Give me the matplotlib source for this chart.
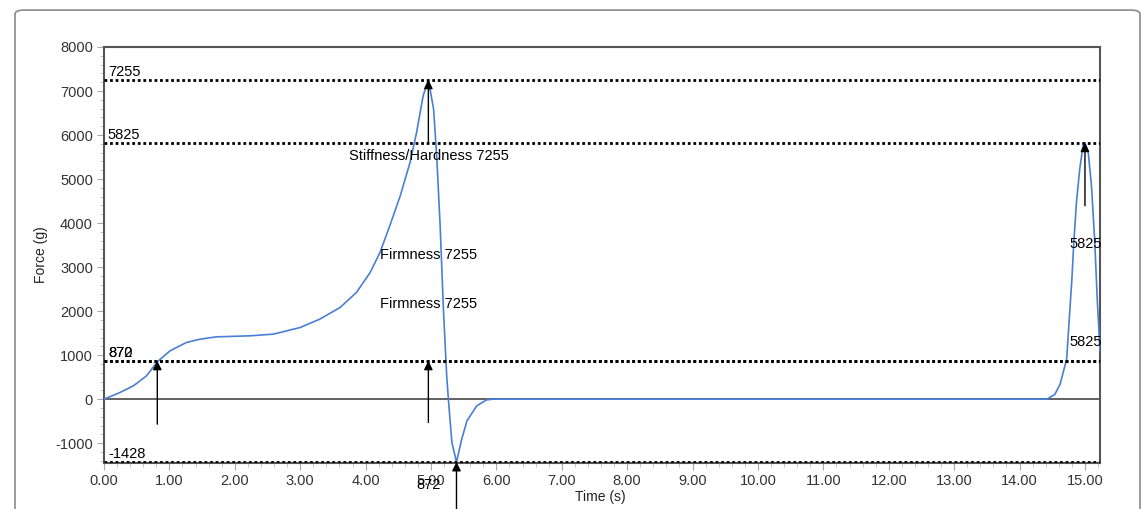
import matplotlib
matplotlib.use("Agg")
import matplotlib.pyplot as plt
from matplotlib.patches import FancyBboxPatch
from matplotlib.ticker import MultipleLocator, FormatStrFormatter

plt.rcParams['font.family'] = ['Liberation Sans', 'DejaVu Sans']
plt.rcParams['axes.unicode_minus'] = False

# force curve
time_s = [0.0, 0.245, 0.45, 0.65, 0.815, 1.01, 1.26, 1.47, 1.72, 2.23, 2.59,
          3.0, 3.30, 3.61, 3.86, 4.07, 4.22, 4.37, 4.53, 4.68, 4.78, 4.88,
          4.96, 5.04, 5.09, 5.14, 5.19, 5.24, 5.27, 5.32, 5.39, 5.47, 5.55,
          5.70, 5.85, 5.95, 14.42, 14.54, 14.62, 14.72, 14.76, 14.80, 14.83,
          14.87, 14.92, 14.97, 15.0, 15.05, 15.10, 15.15, 15.19, 15.23]
force_g = [0, 152, 303, 530, 848, 1098, 1288, 1363, 1416, 1439, 1477,
           1628, 1818, 2083, 2424, 2878, 3333, 3939, 4620, 5378, 6060, 6892,
           7255, 6590, 5453, 3939, 2045, 530, -76, -985, -1428, -909, -492,
           -151, -15, 0, 0, 110, 340, 909, 1818, 2727, 3567,
           4476, 5226, 5756, 5825, 5606, 4847, 3567, 2204, 1100]

# dotted level lines and their labels
levels = [7255, 5825, 870, 872, -1428]
level_labels = ['7255', '5825', '870', '872', '-1428']

# arrows: (time, tail force, head force)
arrows = [(0.815, -568, 870), (4.96, -530, 870), (4.96, 5825, 7255),
          (5.39, -2490, -1428), (15.0, 4394, 5825)]

# text marks: (time, force, text, ha)
notes = [(4.97, 5530, 'Stiffness/Hardness 7255', 'center'),
         (4.22, 3272, 'Firmness 7255', 'left'),
         (4.22, 2151, 'Firmness 7255', 'left'),
         (14.77, 3522, '5825', 'left'),
         (14.77, 1295, '5825', 'left'),
         (4.96, -1960, '872', 'center')]

fig = plt.figure(figsize=(11.42, 5.09), dpi=100)
frame = FancyBboxPatch((15 / 1142, -0.05), 1125 / 1142, 0.04 + 504 / 509,
                       boxstyle="round,pad=0,rounding_size=0.008",
                       transform=fig.transFigure, fill=False,
                       edgecolor='#8a8a8a', lw=1.2)
fig.patches.append(frame)

ax = fig.add_axes([104 / 1142, 1 - 463 / 509, 996 / 1142, 416 / 509])
ax.set_xlim(0, 15.23)
ax.set_ylim(-1450, 8000)

ax.plot(time_s, force_g, color='#4a7fd6', lw=1.2, zorder=3)
ax.axhline(0, color='#555555', lw=1.3, zorder=2)

for lv, lab in zip(levels, level_labels):
    ax.axhline(lv, color='black', lw=2.0, ls=(0, (1, 1)), zorder=4)
    ax.text(0.06, lv + 25, lab, fontsize=10.5, va='bottom', ha='left',
            color='black', zorder=5)

for t, tail, head in arrows:
    ax.annotate('', xy=(t, head), xytext=(t, tail),
                arrowprops=dict(arrowstyle='-|>', color='black', lw=1.0,
                                mutation_scale=13, shrinkA=0, shrinkB=0),
                annotation_clip=False, zorder=6)

for t, f, s, ha in notes:
    ax.text(t, f, s, fontsize=10.5, ha=ha, va='center', color='black',
            clip_on=False, zorder=6)

ax.xaxis.set_major_locator(MultipleLocator(1))
ax.xaxis.set_minor_locator(MultipleLocator(0.2))
ax.xaxis.set_major_formatter(FormatStrFormatter('%.2f'))
ax.yaxis.set_major_locator(MultipleLocator(1000))
ax.yaxis.set_minor_locator(MultipleLocator(200))
ax.tick_params(which='major', length=5, color='#aaaaaa', labelsize=10.5,
               labelcolor='#333333', pad=3)
ax.tick_params(which='minor', length=3, color='#bbbbbb')

for sp in ax.spines.values():
    sp.set_color('#555555')
    sp.set_linewidth(1.5)

ax.set_xlabel('Time (s)', fontsize=10, color='#222222')
ax.set_ylabel('Force (g)', fontsize=10, color='#222222')
ax.xaxis.set_label_coords(0.498, -0.066)
ax.yaxis.set_label_coords(-0.056, 0.5)

fig.savefig('out.png', dpi=100)
